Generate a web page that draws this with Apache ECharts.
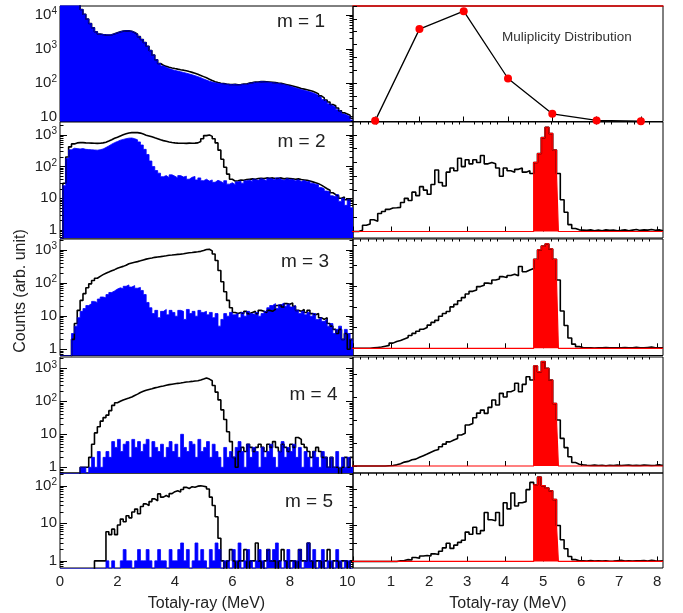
<!DOCTYPE html>
<html>
<head>
<meta charset="utf-8">
<script src="https://cdn.jsdelivr.net/npm/echarts@6/dist/echarts.min.js"></script>
<style>
  html, body { margin: 0; padding: 0; background: #fff; }
  #chart { width: 683px; height: 613px; }
</style>
</head>
<body>
<div id="chart"></div>
<script>
// ---------------------------------------------------------------------------
// Histogram contents
// Left column: total gamma-ray energy, bins of 0.1 MeV starting at 0 MeV.
// Right column: bins of 0.1 MeV centred on 0.0, 0.1 ... 8.1 MeV (arb. units).
// ---------------------------------------------------------------------------
const leftBinStart = 0.0;
const leftBinWidth = 0.1;
const rightBinStart = -0.05;
const rightBinWidth = 0.1;
const gateLow = 4.75;   // MeV, gated region drawn in red
const gateHigh = 5.40;

const multiplicity = [1, 2, 3, 4, 5, 6, 7];
const multiplicityCounts = [0.05, 7.2, 8.6, 3.35, 0.6, 0.08, 0.02];

const m1Black = [
  30000, 42000, 46000, 42000, 36000, 29000, 21000, 14500, 10500, 7600,
  5600, 4200, 3200, 2750, 2650, 2600, 2580, 2620, 2800, 3000,
  3200, 3350, 3420, 3400, 3300, 3050, 2700, 2300, 1900, 1550,
  1200, 900, 660, 480, 370, 330, 305, 288, 274, 263,
  253, 244, 236, 226, 214, 203, 192, 178, 165, 152,
  140, 128, 117, 108, 102, 97, 95, 92, 90, 89,
  90, 88, 89, 92, 92, 98, 101, 105, 105, 109,
  108, 107, 105, 103, 101, 98, 96, 92, 88, 84,
  80, 76, 72, 68, 65, 62, 59, 56, 52, 47,
  41, 36, 31, 27, 23, 21, 18, 15, 13, 12,
  11, 9
];
const m1Blue = [
  30000, 42000, 46000, 42000, 36000, 29000, 21000, 14500, 10500, 7600,
  5600, 4200, 3200, 2750, 2650, 2600, 2580, 2620, 2800, 3000,
  3200, 3350, 3420, 3400, 3300, 3050, 2700, 2300, 1900, 1550,
  1200, 900, 660, 480, 370, 315, 285, 262, 245, 232,
  222, 212, 202, 192, 182, 172, 162, 152, 142, 130,
  120, 112, 105, 100, 97, 95, 93, 91, 89, 88,
  89, 86, 88, 91, 90, 97, 99, 104, 103, 108,
  106, 105, 103, 101, 99, 96, 93, 89, 85, 80,
  75, 71, 67, 63, 60, 57, 54, 51, 47, 42,
  37, 32, 28, 24, 21, 19, 16, 14, 12, 11,
  10, 8
];

const m2Black = [
  0, 30, 200, 420, 520, 560, 570, 570, 560, 555,
  550, 545, 540, 545, 560, 590, 640, 700, 780, 850,
  930, 1010, 1080, 1150, 1180, 1190, 1180, 1140, 1060, 980,
  930, 870, 810, 760, 700, 660, 630, 600, 575, 560,
  550, 545, 548, 540, 552, 545, 550, 560, 620, 760,
  950, 1000, 900, 760, 560, 330, 170, 95, 58, 40,
  35, 36, 38, 37, 39, 40, 41, 40, 42, 43,
  42, 44, 43, 44, 42, 43, 44, 41, 43, 42,
  41, 40, 41, 39, 38, 37, 35, 33, 31, 29,
  26, 23, 20, 18, 15, 13, 12, 10, 11, 9,
  9, 8
];
const m2Blue = [
  0, 25, 180, 340, 380, 370, 360, 370, 350, 345,
  340, 335, 330, 340, 360, 400, 450, 510, 570, 620,
  680, 720, 760, 790, 800, 760, 700, 600, 480, 350,
  240, 150, 100, 75, 62, 48, 52, 45, 55, 50,
  44, 52, 47, 50, 40, 46, 49, 38, 44, 36,
  40, 35, 38, 32, 37, 34, 30, 36, 28, 31,
  27, 33, 35, 30, 36, 38, 34, 40, 37, 42,
  39, 36, 43, 41, 38, 44, 40, 37, 42, 39,
  40, 36, 39, 34, 37, 33, 35, 30, 28, 27,
  22, 20, 17, 16, 12, 11, 13, 8, 10, 6,
  9, 5
];

const m3Black = [
  0, 0, 0, 0, 2, 6, 15, 30, 48, 72,
  95, 120, 140, 160, 180, 198, 215, 235, 255, 280,
  300, 320, 345, 385, 405, 425, 445, 470, 500, 530,
  555, 575, 600, 615, 630, 650, 670, 695, 705, 720,
  735, 750, 770, 800, 825, 840, 860, 880, 910, 960,
  1030, 1050, 940, 760, 480, 240, 110, 55, 30, 18,
  13, 12, 13, 12, 14, 12, 13, 14, 12, 15,
  14, 13, 15, 14, 16, 21, 22, 19, 24, 23,
  25, 20, 15, 14, 16, 13, 15, 12, 11, 12,
  9, 8, 9, 6, 5, 4, 3, 4, 2, 3,
  1, 2
];
const m3Blue = [
  0, 0, 0, 0, 3, 5, 9, 14, 17, 21,
  24, 28, 26, 33, 38, 36, 45, 52, 58, 66,
  72, 68, 80, 88, 76, 84, 70, 74, 60, 45,
  26, 18, 12, 15, 9, 14, 16, 11, 15, 13,
  10, 15, 14, 8, 16, 12, 14, 10, 15, 13,
  14, 11, 13, 9, 12, 5, 8, 12, 10, 13,
  11, 12, 9, 13, 10, 14, 12, 11, 13, 10,
  12, 14, 18, 21, 24, 17, 22, 25, 20, 23,
  19, 21, 15, 12, 14, 11, 13, 10, 12, 8,
  9, 7, 8, 5, 6, 3, 4, 5, 2, 4,
  3, 2
];

const m4Black = [
  0, 0, 0, 0, 0, 0, 0, 1, 1, 1,
  2, 5, 11, 17, 25, 32, 38, 52, 75, 90,
  100, 110, 118, 125, 135, 150, 165, 185, 200, 215,
  228, 240, 255, 265, 280, 290, 305, 320, 330, 340,
  350, 360, 372, 385, 392, 400, 410, 420, 440, 470,
  510, 470, 420, 300, 190, 110, 55, 28, 12, 6,
  2, 1, 3, 4, 3, 5, 4, 3, 4, 5,
  4, 3, 5, 4, 6, 4, 3, 5, 4, 3,
  5, 4, 8, 7, 5, 4, 3, 2, 3, 4,
  3, 2, 2, 1, 2, 1, 1, 0, 1, 2,
  1, 2
];
const m4Blue = [
  0, 0, 0, 0, 0, 0, 0, 1, 1, 0,
  1, 2, 1, 3, 1, 2, 3, 2, 6, 4,
  7, 3, 5, 6, 2, 7, 4, 6, 3, 5,
  7, 2, 6, 4, 3, 5, 2, 4, 6, 3,
  5, 2, 10, 4, 3, 6, 5, 2, 7, 3,
  4, 6, 2, 5, 3, 2, 1, 4, 2, 3,
  2, 4, 6, 3, 1, 5, 2, 4, 3, 1,
  4, 2, 3, 5, 2, 1, 3, 6, 2, 4,
  3, 5, 2, 4, 1, 3, 2, 1, 3, 2,
  1, 3, 2, 1, 2, 1, 3, 1, 2, 1,
  2, 1
];

const m5Black = [
  0, 0, 0, 0, 0, 0, 0, 0, 0, 0,
  0, 0, 1, 1, 1, 1, 6, 5, 7, 5,
  9, 13, 11, 16, 14, 20, 24, 18, 28, 33,
  30, 38, 45, 40, 61, 50, 55, 50, 62, 70,
  74, 68, 80, 91, 85, 95, 92, 98, 100, 97,
  94, 82, 50, 30, 15, 4, 1, 0, 1, 2,
  1, 0, 1, 1, 2, 0, 1, 1, 3, 1,
  0, 1, 2, 1, 1, 0, 1, 2, 1, 0,
  1, 1, 0, 2, 1, 1, 3, 1, 0, 1,
  1, 0, 1, 2, 0, 1, 1, 0, 1, 1,
  0, 1
];
const m5Blue = [
  0, 0, 0, 0, 0, 0, 0, 0, 0, 0,
  0, 0, 0, 0, 0, 0, 1, 0, 1, 0,
  0, 1, 2, 1, 1, 0, 1, 2, 1, 1,
  2, 1, 0, 1, 2, 1, 1, 0, 2, 1,
  1, 2, 3, 1, 2, 0, 1, 3, 1, 2,
  1, 0, 2, 1, 3, 2, 0, 1, 1, 0,
  2, 1, 3, 0, 1, 2, 1, 0, 1, 2,
  1, 0, 2, 1, 2, 3, 1, 0, 1, 2,
  0, 1, 1, 2, 0, 1, 3, 1, 2, 0,
  1, 2, 0, 1, 1, 0, 2, 1, 0, 1,
  1, 0
];

const m2Right = [
  0, 0, 0.1, 0.45, 0.55, 0.85, 0.75, 1.3, 1.45, 1.6,
  1.7, 1.72, 1.75, 2.1, 2.4, 2.25, 2.85, 2.6, 3.25, 3.0,
  2.7, 3.4, 4.45, 3.55, 3.3, 4.3, 4.6, 4.4, 5.3, 4.7,
  5.2, 4.9, 5.2, 5.0, 5.5, 4.9, 5.0, 4.9, 4.6, 4.0,
  4.6, 4.4, 4.3, 4.5, 4.6, 4.3, 4.4, 4.2, 5.0, 5.65,
  6.8, 7.55, 7.1, 5.9, 4.2, 2.3, 1.4, 0.5, 0.22, 0.12,
  0.1, 0.08, 0.12, 0.06, 0.1, 0.05, 0.12, 0.08, 0.1, 0.06,
  0.08, 0.12, 0.05, 0.1, 0.15, 0.08, 0.12, 0.1, 0.14, 0.09,
  0.12, 0.05
];
const m3Right = [
  0, 0, 0, 0, 0, 0.02, 0.04, 0.06, 0.1, 0.14,
  0.25, 0.33, 0.38, 0.45, 0.52, 0.62, 0.72, 0.82, 0.92, 1.0,
  1.12, 1.25, 1.35, 1.55, 1.68, 1.78, 2.0, 2.12, 2.3, 2.45,
  2.62, 2.75, 2.82, 2.98, 3.05, 3.15, 3.12, 3.3, 3.35, 3.46,
  3.42, 3.52, 3.58, 3.5, 3.95, 3.7, 3.78, 3.86, 4.3, 4.75,
  4.94, 5.04, 4.8, 4.3, 3.3, 1.8, 1.1, 0.5, 0.2, 0.08,
  0.04, 0.02, 0.03, 0.01, 0.03, 0.02, 0.04, 0.02, 0.03, 0.02,
  0.03, 0.04, 0.02, 0.03, 0.05, 0.03, 0.02, 0.04, 0.06, 0.03,
  0.02, 0.03
];
const m4Right = [
  0, 0, 0, 0, 0, 0, 0, 0, 0, 0.01,
  0.02, 0.05, 0.1, 0.17, 0.2, 0.27, 0.3, 0.38, 0.45, 0.52,
  0.6, 0.67, 0.72, 0.84, 0.95, 1.05, 1.13, 1.2, 1.35, 1.42,
  1.78, 1.85, 2.1, 2.3, 2.43, 2.29, 2.55, 2.87, 2.65, 3.16,
  3.0, 3.23, 3.3, 3.6, 3.23, 3.55, 3.88, 3.74, 4.35, 4.1,
  4.54, 4.25, 3.74, 2.72, 2.0, 1.2, 0.8, 0.4, 0.15, 0.08,
  0.05, 0.03, 0.02, 0.04, 0.02, 0.03, 0.01, 0.03, 0.02, 0.04,
  0.02, 0.03, 0.04, 0.02, 0.03, 0.02, 0.04, 0.03, 0.02, 0.03,
  0.05, 0.02
];
const m5Right = [
  0, 0, 0, 0, 0, 0, 0, 0, 0, 0,
  0, 0, 0.03, 0.05, 0.1, 0.08, 0.22, 0.18, 0.3, 0.33,
  0.3, 0.42, 0.38, 0.56, 0.75, 1.0, 0.72, 0.9, 1.05, 1.17,
  1.62, 1.5, 1.89, 1.53, 1.7, 2.7, 2.3, 2.25, 2.7, 1.98,
  3.24, 2.9, 3.78, 3.06, 3.24, 3.3, 3.96, 4.36, 4.23, 4.65,
  4.18, 4.05, 3.9, 3.42, 1.98, 1.2, 0.7, 0.27, 0.1, 0.04,
  0.03, 0.02, 0.05, 0.02, 0.04, 0.02, 0.03, 0.01, 0.02, 0.04,
  0.06, 0.02, 0.03, 0.02, 0.04, 0.03, 0.05, 0.02, 0.06, 0.03,
  0.02, 0.04
];

const leftTickLabels = [0, 2, 4, 6, 8, 10];
const rightTickLabels = [1, 2, 3, 4, 5, 6, 7, 8];
const panelNames = ['m = 1', 'm = 2', 'm = 3', 'm = 4', 'm = 5'];

// ---------------------------------------------------------------------------
// Layout
// ---------------------------------------------------------------------------
const FONT = '"Liberation Sans", Arial, Helvetica, sans-serif';
const INK = '#222';
const rowTop = [6, 122, 239, 357, 473];
const rowBottom = [121.5, 238, 355.5, 473, 570];
const leftX = 60, leftW = 293;
const rightX = 353, rightW = 310;
// visible y range of each left panel, as powers of ten
const leftLogRange = [[0.858, 4.266], [-0.252, 3.407], [-0.187, 3.332], [-0.173, 3.342], [-0.19, 2.342]];
// visible y range of each right panel (arb. units)
const rightRange = [[0, 9], [-0.47, 7.93], [-0.348, 5.28], [-0.304, 4.74], [-0.362, 4.88]];
const rightTickTop = [9, 7, 5, 4, 4];
const labelPos = [[301, 22], [301.5, 142], [305, 262], [313.5, 395], [309, 502]];

const leftBlack = [m1Black, m2Black, m3Black, m4Black, m5Black];
const leftBlue = [m1Blue, m2Blue, m3Blue, m4Blue, m5Blue];
const rightBlack = [null, m2Right, m3Right, m4Right, m5Right];

// ---------------------------------------------------------------------------
// Helpers
// ---------------------------------------------------------------------------
const option = {
  animation: false,
  backgroundColor: '#fff',
  grid: [], xAxis: [], yAxis: [], series: [], graphic: []
};

function addGrid(left, top, width, height) {
  option.grid.push({ left, top, width, height, show: true, borderColor: '#000', borderWidth: 1, backgroundColor: 'transparent' });
  return option.grid.length - 1;
}
function baseAxis(extra) {
  return Object.assign({
    type: 'value',
    axisLine: { show: false },
    splitLine: { show: false },
    axisTick: { show: false },
    axisLabel: { show: false }
  }, extra);
}
function addX(extra) { option.xAxis.push(baseAxis(extra)); return option.xAxis.length - 1; }
function addY(extra) { option.yAxis.push(baseAxis(extra)); return option.yAxis.length - 1; }
function ticks(values, length) {
  return { show: true, inside: true, length, customValues: values, lineStyle: { color: '#000', width: 1 } };
}

// step-histogram points: low edges plus the final upper edge
function histPoints(start, width, values, floor) {
  const pts = values.map((v, i) => [+(start + i * width).toFixed(4), v > 0 ? v : floor]);
  pts.push([+(start + values.length * width).toFixed(4), pts[pts.length - 1][1]]);
  return pts;
}
// same histogram with everything outside [lo, hi] set to zero
function gatedPoints(start, width, values, lo, hi) {
  const segs = [];
  values.forEach((v, i) => {
    const a = start + i * width, b = a + width;
    if (b <= lo || a >= hi) { segs.push([a, b, 0]); return; }
    if (a < lo) segs.push([a, lo, 0]);
    segs.push([Math.max(a, lo), Math.min(b, hi), v]);
    if (b > hi) segs.push([hi, b, 0]);
  });
  const pts = segs.map(s => [+s[0].toFixed(4), s[2]]);
  const last = segs[segs.length - 1];
  pts.push([+last[1].toFixed(4), last[2]]);
  return pts;
}
function logTicks(lo, hi) {
  const major = [], minor = [];
  for (let e = Math.floor(lo); e <= Math.ceil(hi); e++) {
    const base = Math.pow(10, e);
    if (e >= lo && e <= hi) major.push(base);
    for (let k = 2; k <= 9; k++) {
      const v = k * base;
      const l = Math.log10(v);
      if (l >= lo && l <= hi) minor.push(+v.toPrecision(6));
    }
  }
  return { major, minor };
}
function range(a, b, step) {
  const out = [];
  for (let v = a; v <= b + 1e-9; v += step) out.push(+v.toFixed(4));
  return out;
}
const powerLabel = {
  formatter: v => {
    const e = Math.round(Math.log10(v));
    if (e === 0) return '{b|1}';
    if (e === 1) return '{b|10}';
    return '{b|10}{s|' + e + '}';
  },
  rich: {
    b: { fontSize: 15, fontFamily: FONT, color: INK, lineHeight: 17 },
    s: { fontSize: 10, fontFamily: FONT, color: INK, verticalAlign: 'top', lineHeight: 17 }
  }
};

// ---------------------------------------------------------------------------
// Panels
// ---------------------------------------------------------------------------
for (let r = 0; r < 5; r++) {
  const top = rowTop[r], h = rowBottom[r] - rowTop[r];
  const isBottom = r === 4;

  // ---- left: log-scale energy spectra ----
  const gL = addGrid(leftX, top, leftW, h);
  const [lo, hi] = leftLogRange[r];
  const yMin = Math.pow(10, lo), yMax = Math.pow(10, hi);
  const lt = logTicks(lo, hi);
  const xL = addX({
    gridIndex: gL, min: 0, max: 10.2,
    axisLabel: isBottom
      ? { show: true, customValues: leftTickLabels, fontSize: 15, fontFamily: FONT, color: INK, margin: 6 }
      : { show: false },
    name: isBottom ? 'Totalγ-ray (MeV)' : '',
    nameLocation: 'middle', nameGap: 28,
    nameTextStyle: { fontSize: 16, fontFamily: FONT, color: INK }
  });
  const yL = addY({
    gridIndex: gL, type: 'log', logBase: 10, min: yMin, max: yMax, position: 'left',
    axisTick: ticks(lt.major, 7),
    axisLabel: Object.assign({ show: true, customValues: lt.major, margin: 3 }, powerLabel)
  });
  addY({ gridIndex: gL, type: 'log', logBase: 10, min: yMin, max: yMax, position: 'left', axisTick: ticks(lt.minor, 3.5) });
  addY({ gridIndex: gL, type: 'log', logBase: 10, min: yMin, max: yMax, position: 'right', axisTick: ticks(lt.major, 7) });
  addY({ gridIndex: gL, type: 'log', logBase: 10, min: yMin, max: yMax, position: 'right', axisTick: ticks(lt.minor, 3.5) });

  const floor = 1e-3;
  option.series.push({
    type: 'line', xAxisIndex: xL, yAxisIndex: yL, step: 'end', symbol: 'none', silent: true,
    data: histPoints(leftBinStart, leftBinWidth, leftBlack[r], floor),
    lineStyle: { color: '#000', width: 1.6 }
  });
  option.series.push({
    type: 'line', xAxisIndex: xL, yAxisIndex: yL, step: 'end', symbol: 'none', silent: true,
    data: histPoints(leftBinStart, leftBinWidth, leftBlue[r], floor),
    lineStyle: { color: '#0000ff', width: 0.8 },
    areaStyle: { color: '#0000ff', opacity: 1, origin: 'start' }
  });

  option.graphic.push({
    type: 'text', x: labelPos[r][0], y: labelPos[r][1], silent: true,
    style: { text: panelNames[r], align: 'center', verticalAlign: 'middle', fontSize: 19, fontFamily: FONT, fill: INK }
  });

  // ---- right: linear-scale spectra, top one is the multiplicity distribution ----
  const gR = addGrid(rightX, top, rightW, h);
  const [rlo, rhi] = rightRange[r];
  const yR = addY({ gridIndex: gR, min: rlo, max: rhi, position: 'left', axisTick: ticks(range(0, rightTickTop[r], 1), 4) });

  if (r === 0) {
    const xR = addX({ gridIndex: gR, min: 0.5, max: 7.5, axisTick: ticks(multiplicity, 5) });
    addX({ gridIndex: gR, min: 0.5, max: 7.5, position: 'top', axisLine: { show: true, lineStyle: { color: '#e00000', width: 1.5 } } });
    option.series.push({
      type: 'line', xAxisIndex: xR, yAxisIndex: yR, silent: true,
      data: multiplicity.map((m, i) => [m, multiplicityCounts[i]]),
      symbol: 'circle', symbolSize: 8,
      itemStyle: { color: '#ff0000', borderWidth: 0 },
      lineStyle: { color: '#000', width: 1.3 }
    });
    option.graphic.push({
      type: 'text', x: 502, y: 37, silent: true,
      style: { text: 'Muliplicity Distribution', align: 'left', verticalAlign: 'middle', fontSize: 13.5, fontFamily: FONT, fill: '#333' }
    });
  } else {
    const xR = addX({
      gridIndex: gR, min: 0, max: 8.15,
      axisTick: ticks(range(0, 8, 1), 5),
      axisLabel: isBottom
        ? { show: true, customValues: rightTickLabels, fontSize: 15, fontFamily: FONT, color: INK, margin: 6 }
        : { show: false },
      name: isBottom ? 'Totalγ-ray (MeV)' : '',
      nameLocation: 'middle', nameGap: 28,
      nameTextStyle: { fontSize: 16, fontFamily: FONT, color: INK }
    });
    addX({ gridIndex: gR, min: 0, max: 8.15, axisTick: ticks(range(0.2, 8.0, 0.2).filter(v => Math.abs(v - Math.round(v)) > 1e-6), 2.5) });
    option.series.push({
      type: 'line', xAxisIndex: xR, yAxisIndex: yR, step: 'end', symbol: 'none', silent: true,
      data: histPoints(rightBinStart, rightBinWidth, rightBlack[r], 0),
      lineStyle: { color: '#000', width: 1.6 }
    });
    option.series.push({
      type: 'line', xAxisIndex: xR, yAxisIndex: yR, step: 'end', symbol: 'none', silent: true,
      data: gatedPoints(rightBinStart, rightBinWidth, rightBlack[r], gateLow, gateHigh),
      lineStyle: { color: '#ff0000', width: 1.2 },
      areaStyle: { color: '#ff0000', opacity: 1, origin: 0 }
    });
  }
}

// shared y-axis title
option.graphic.push({
  type: 'text', x: 21, y: 291, rotation: Math.PI / 2, silent: true,
  style: { text: 'Counts (arb. unit)', align: 'center', verticalAlign: 'middle', fontSize: 16, fontFamily: FONT, fill: INK }
});

const chart = echarts.init(document.getElementById('chart'), null, { renderer: 'canvas' });
chart.setOption(option);
</script>
</body>
</html>
